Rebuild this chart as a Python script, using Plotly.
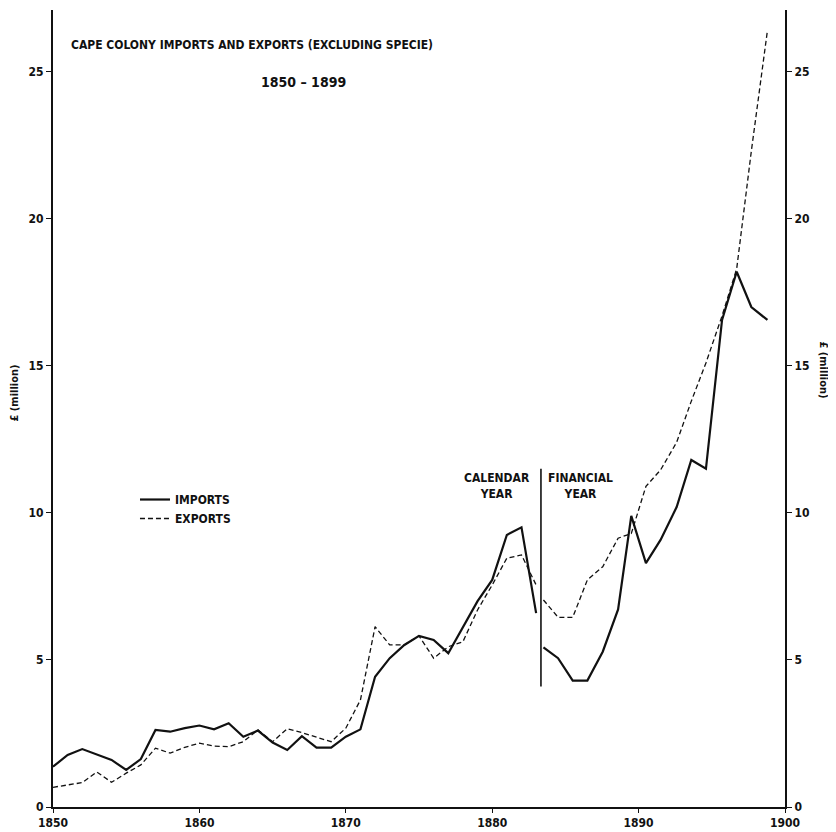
import plotly.graph_objects as go

# ---- data ----
cal_years = list(range(1850, 1884))
imports_cal = [1.37, 1.77, 1.97, 1.79, 1.60, 1.26, 1.63, 2.62, 2.56, 2.68,
               2.77, 2.64, 2.85, 2.39, 2.60, 2.19, 1.94, 2.41, 2.02, 2.02,
               2.39, 2.64, 4.43, 5.06, 5.51, 5.82, 5.68, 5.23, 6.10, 7.00,
               7.72, 9.25, 9.51, 6.59]
exports_cal = [0.67, 0.74, 0.83, 1.19, 0.84, 1.15, 1.43, 2.00, 1.83, 2.03,
               2.17, 2.07, 2.05, 2.22, 2.62, 2.22, 2.66, 2.53, 2.37, 2.22,
               2.68, 3.64, 6.13, 5.51, 5.51, 5.82, 5.06, 5.45, 5.62, 6.70,
               7.55, 8.46, 8.57, 7.55]

fin_pos = [1883.5, 1884.5, 1885.5, 1886.5, 1887.55, 1888.6, 1889.5, 1890.5,
           1891.5, 1892.6, 1893.6, 1894.6, 1895.7, 1896.7, 1897.7, 1898.8]
imports_fin = [5.43, 5.06, 4.30, 4.30, 5.28, 6.72, 9.90, 8.29,
               9.08, 10.2, 11.8, 11.5, 16.56, 18.2, 17.0, 16.56]
exports_fin = [7.04, 6.45, 6.45, 7.72, 8.17, 9.14, 9.30, 10.9,
               11.46, 12.4, 13.8, 15.1, 16.7, 18.3, 22.3, 26.4]

divider_year = [1883.33, 1883.33]
divider_span = [4.1, 11.5]

x_ticks = [1850, 1860, 1870, 1880, 1890, 1900]
y_ticks = [0, 5, 10, 15, 20, 25]

FONT = "Liberation Sans Narrow, DejaVu Sans Condensed, Arial Narrow, sans-serif"
BLACK = "#111111"

fig = go.Figure()

imp_line = dict(color=BLACK, width=2.2)
exp_line = dict(color=BLACK, width=1.3, dash="5px,3px")

fig.add_trace(go.Scatter(x=cal_years, y=imports_cal, mode="lines", line=imp_line,
                         name="IMPORTS", legendgroup="imp"))
fig.add_trace(go.Scatter(x=cal_years, y=exports_cal, mode="lines", line=exp_line,
                         name="EXPORTS", legendgroup="exp"))
fig.add_trace(go.Scatter(x=fin_pos, y=imports_fin, mode="lines", line=imp_line,
                         name="IMPORTS", legendgroup="imp", showlegend=False))
fig.add_trace(go.Scatter(x=fin_pos, y=exports_fin, mode="lines", line=exp_line,
                         name="EXPORTS", legendgroup="exp", showlegend=False))
fig.add_trace(go.Scatter(x=divider_year, y=divider_span, mode="lines",
                         line=dict(color=BLACK, width=1.6), showlegend=False,
                         hoverinfo="skip"))
# trace to bring the right-hand axis into existence
fig.add_trace(go.Scatter(x=[None], y=[None], yaxis="y2", showlegend=False,
                         hoverinfo="skip"))

axis_font = dict(family=FONT, size=12, color=BLACK, weight="bold")

fig.update_layout(
    width=828, height=824,
    margin=dict(l=45, r=51, t=2, b=25),
    paper_bgcolor="white", plot_bgcolor="white",
    font=dict(family=FONT, color=BLACK),
    xaxis=dict(range=[1850, 1900], tickvals=x_ticks, ticks="outside", ticklen=4,
               tickwidth=1.2, tickcolor=BLACK, showgrid=False, zeroline=False,
               showline=True, linecolor=BLACK, linewidth=1.6,
               tickfont=axis_font),
    yaxis=dict(range=[0, 27.1], tickvals=y_ticks, ticks="outside", ticklen=5,
               tickwidth=1.2, tickcolor=BLACK, showgrid=False, zeroline=False,
               showline=True, linecolor=BLACK, linewidth=2,
               tickfont=axis_font),
    yaxis2=dict(range=[0, 27.1], tickvals=y_ticks, ticks="outside", ticklen=5,
                tickwidth=1.2, tickcolor=BLACK, showgrid=False, zeroline=False,
                showline=True, linecolor=BLACK, linewidth=2, side="right",
                overlaying="y", tickfont=axis_font),
    showlegend=True,
    legend=dict(x=0.112, y=0.404, xanchor="left", yanchor="top",
                bgcolor="rgba(0,0,0,0)", itemwidth=30,
                font=dict(family=FONT, size=12, color=BLACK, weight="bold"),
                tracegroupgap=0),
)

annotations = [
    dict(text="CAPE COLONY IMPORTS AND EXPORTS (EXCLUDING SPECIE)", xref="paper",
         yref="paper", x=0.272, y=0.956, xanchor="center", yanchor="middle",
         showarrow=False,
         font=dict(family=FONT, size=12, color=BLACK, weight="bold")),
    dict(text="1850 – 1899", xref="paper", yref="paper", x=0.342, y=0.910,
         xanchor="center", yanchor="middle", showarrow=False,
         font=dict(family=FONT, size=14, color=BLACK, weight="bold")),
    dict(text="CALENDAR<br>YEAR", xref="x", yref="y", x=1880.3, y=10.9,
         xanchor="center", showarrow=False,
         font=dict(family=FONT, size=12, color=BLACK, weight="bold")),
    dict(text="FINANCIAL<br>YEAR", xref="x", yref="y", x=1886.0, y=10.9,
         xanchor="center", showarrow=False,
         font=dict(family=FONT, size=12, color=BLACK, weight="bold")),
    dict(text="£ (million)", xref="paper", yref="paper", x=-0.052, y=0.52,
         xanchor="center", yanchor="middle", textangle=-90, showarrow=False,
         font=dict(family=FONT, size=11, color=BLACK, weight="bold")),
    dict(text="£ (million)", xref="paper", yref="paper", x=1.053, y=0.548,
         xanchor="center", yanchor="middle", textangle=90, showarrow=False,
         font=dict(family=FONT, size=11, color=BLACK, weight="bold")),
]
fig.update_layout(annotations=annotations)

fig.write_html("out.html")
